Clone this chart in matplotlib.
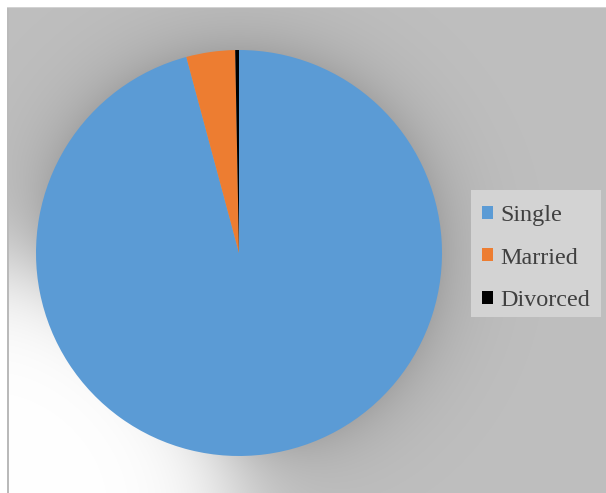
import numpy as np
import matplotlib.pyplot as plt
from matplotlib.patches import Rectangle

labels = ["Single", "Married", "Divorced"]
counts = [321, 13, 1]
colors = ["#5B9BD5", "#ED7D31", "#000000"]

W, H = 606, 493
cx, cy, r = 239, 253, 203

# background: gray panel, dark halo round the pie, white glow to lower left
yy, xx = np.mgrid[0:H, 0:W] + 0.5
d_out = np.clip(np.hypot(xx - cx, yy - cy) - r, 0, None)
halo = 26 * np.exp(-d_out / 32)
d_glow = np.hypot(xx + 10, yy - 510) - 243
glow = 1 / (1 + np.exp(d_glow / 30))
bg = (191 - halo) * (1 - glow) + 255 * glow
bg[:, 7:9] = 186
bg[7, 7:] = 210
bg[:7, :] = 255
bg[:, :7] = 255
img = np.dstack([bg, bg, bg]) / 255.0

fig = plt.figure(figsize=(W / 100, H / 100), dpi=100)
ax = fig.add_axes([0, 0, 1, 1])
ax.imshow(img, extent=(0, W, 0, H), origin="upper", interpolation="nearest", zorder=0)

wedges, _ = ax.pie(counts, colors=colors, startangle=90, counterclock=False,
                   center=(cx, H - cy), radius=r, frame=True,
                   wedgeprops=dict(linewidth=0))

ax.set_xlim(0, W)
ax.set_ylim(0, H)
ax.set_aspect("equal")
ax.axis("off")

# legend panel
ax.add_patch(Rectangle((471, H - 317), 130, 127, facecolor="#D3D3D3",
                       edgecolor="none", zorder=4))
leg = ax.legend(wedges, labels, loc="center right", bbox_to_anchor=(601, H - 258),
                bbox_transform=ax.transData, borderaxespad=0,
                prop=dict(family="Liberation Serif", size=17.4),
                labelcolor="#404040", handlelength=0.46, handleheight=0.46,
                handletextpad=0.3, labelspacing=0.9, borderpad=0.45,
                frameon=False)
leg.set_zorder(5)

fig.savefig("out.png", dpi=100)
